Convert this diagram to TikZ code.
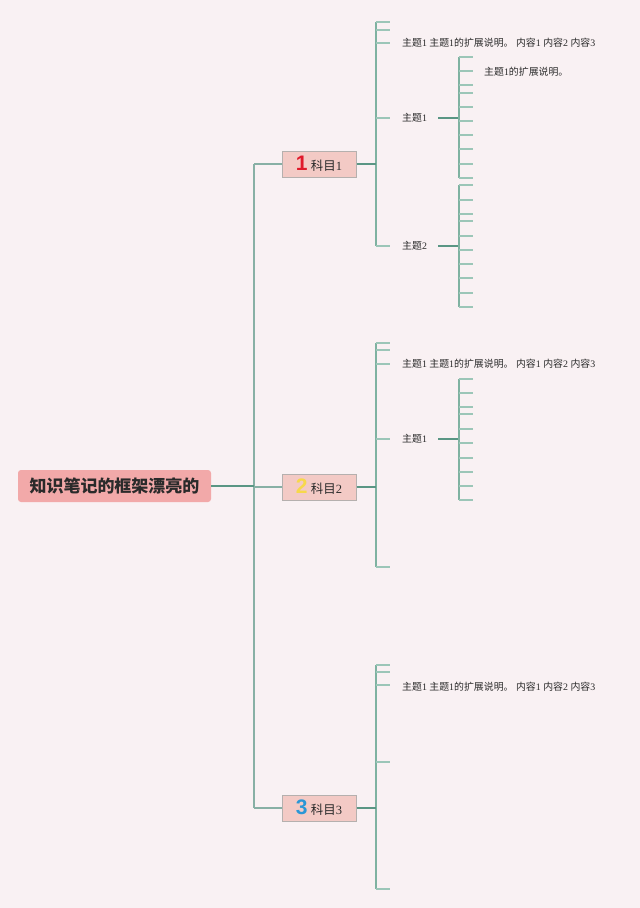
\documentclass[tikz,border=0pt]{standalone}
\usepackage{fontspec}
\setmainfont{Liberation Serif}
\newfontfamily\cjk{Noto Sans CJK SC}
\newfontfamily\numfont{Liberation Sans}
\definecolor{bgc}{HTML}{F9F1F3}
\definecolor{rootc}{HTML}{F2A9A9}
\definecolor{subc}{HTML}{F3CAC5}
\definecolor{subd}{HTML}{B5B0AE}
\definecolor{tickc}{HTML}{9CC6B8}
\definecolor{linec}{HTML}{5A9684}
\definecolor{trunkc}{HTML}{88B0A5}
\definecolor{vertc}{HTML}{7FB2A1}
\definecolor{txtc}{HTML}{2A2A2A}
\definecolor{nred}{HTML}{E0192B}
\definecolor{nyel}{HTML}{F7D84A}
\definecolor{nblu}{HTML}{2A97D6}
\newcommand\zt{{\cjk 主题}}
\newcommand\longtxt{\zt1 \zt1{\cjk 的扩展说明。} {\cjk 内容}1 {\cjk 内容}2 {\cjk 内容}3}
\begin{document}
\begin{tikzpicture}[x=1pt,y=-1pt,
  rootbox/.style={fill=rootc,text=txtc,rounded corners=3pt,minimum width=193pt,minimum height=32pt,inner sep=0pt,font=\cjk\bfseries\fontsize{17}{19}\selectfont},
  subbox/.style={fill=subc,draw=subd,text=txtc,line width=1pt,minimum width=74pt,minimum height=26pt,inner sep=0pt,font=\fontsize{12.5}{14}\selectfont},
  lbl/.style={anchor=west,inner sep=0pt,text=txtc,font=\fontsize{9.9}{11}\selectfont},
  tick/.style={draw=tickc,line width=1.05pt},
  vert/.style={draw=vertc,line width=1.15pt},
  conn/.style={draw=linec,line width=1.5pt},
  trunk/.style={draw=trunkc,line width=1.15pt}]
\fill[bgc] (0,0) rectangle (640,908);
\useasboundingbox (0,0) rectangle (640,908);

% root and subjects
\node[rootbox] (root) at (114.5,486) {知识笔记的框架漂亮的};
\node[subbox] (s1) at (319,164) {{\numfont\bfseries\fontsize{21}{21}\selectfont\color{nred}1} {\cjk 科目}1};
\node[subbox] (s2) at (319,487) {{\numfont\bfseries\fontsize{21}{21}\selectfont\color{nyel}2} {\cjk 科目}2};
\node[subbox] (s3) at (319,808) {{\numfont\bfseries\fontsize{21}{21}\selectfont\color{nblu}3} {\cjk 科目}3};

% trunk
\coordinate (t1) at (254,164);
\coordinate (t2) at (254,487);
\coordinate (t3) at (254,808);
\draw[trunk] (t1) -- (t3);
\draw[trunk] (t1) -- (s1.west);
\draw[trunk] (t2) -- (s2.west);
\draw[trunk] (t3) -- (s3.west);
\draw[conn] (root.east) -- (root.east -| t2);

% ===== branch 1 =====
\coordinate (b1top) at (376,22);
\coordinate (b1bot) at (376,246);
\draw[vert] (b1top) -- (b1bot);
\draw[conn] (s1.east) -- (376,164);
\foreach \y in {22,30,43,118,246} \draw[tick] (376,\y) -- (390,\y);
\node[lbl] (b1t) at (402,43) {\longtxt};
\node[lbl] (b1a) at (402,118) {\zt1};
\node[lbl] (b1b) at (402,246) {\zt2};
\coordinate (b1av) at (459,118);
\coordinate (b1bv) at (459,246);
\draw[conn] (438,118) -- (b1av);
\draw[conn] (438,246) -- (b1bv);
\draw[vert] (459,57) -- (459,178);
\foreach \y in {57,71,85,93,107,121,135,149,164,178} \draw[tick] (459,\y) -- (473,\y);
\node[lbl] (b1an) at (484,72) {\zt1{\cjk 的扩展说明。}};
\draw[vert] (459,185) -- (459,307);
\foreach \y in {185,200,214,221,236,250,264,278,293,307} \draw[tick] (459,\y) -- (473,\y);

% ===== branch 2 =====
\draw[vert] (376,343) -- (376,567);
\draw[conn] (s2.east) -- (376,487);
\foreach \y in {343,350,364,439,567} \draw[tick] (376,\y) -- (390,\y);
\node[lbl] (b2t) at (402,364) {\longtxt};
\node[lbl] (b2a) at (402,439) {\zt1};
\coordinate (b2av) at (459,439);
\draw[conn] (438,439) -- (b2av);
\draw[vert] (459,379) -- (459,500);
\foreach \y in {379,393,407,414,429,443,458,472,486,500} \draw[tick] (459,\y) -- (473,\y);

% ===== branch 3 =====
\draw[vert] (376,665) -- (376,889);
\draw[conn] (s3.east) -- (376,808);
\foreach \y in {665,672,685,762,889} \draw[tick] (376,\y) -- (390,\y);
\node[lbl] (b3t) at (402,687) {\longtxt};
\end{tikzpicture}
\end{document}
